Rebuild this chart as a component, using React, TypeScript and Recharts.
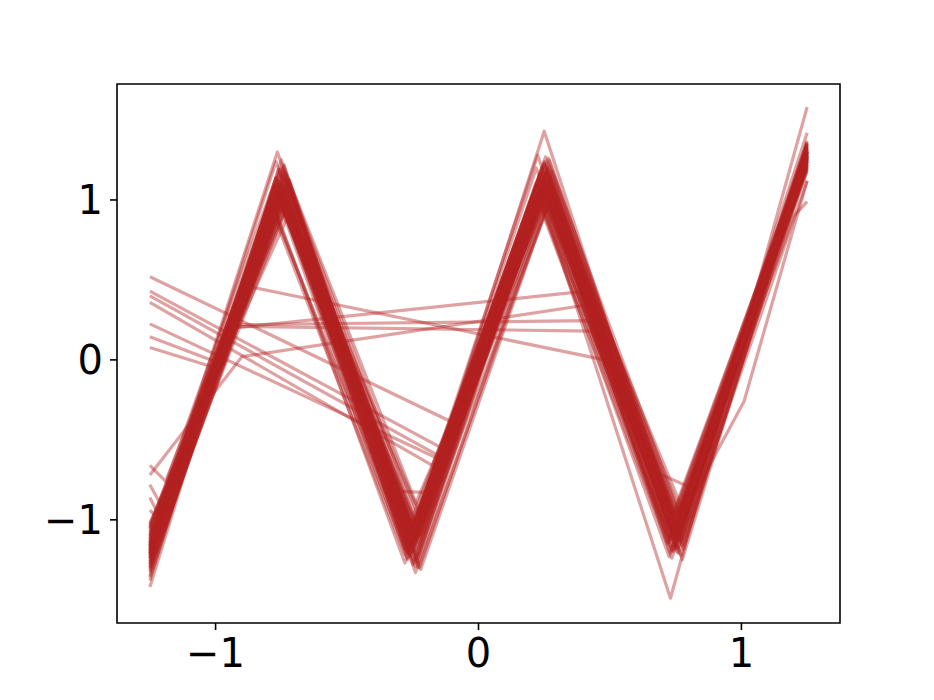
import React from "react";
import { LineChart, Line, XAxis, YAxis, ReferenceArea } from "recharts";

// corner positions shared by the regular curves
const peakX = [-1.25, -0.75, -0.25, 0.25, 0.75, 1.25];

// y at each corner, one row per regular curve
const regularCurves: number[][] = [
  [-1.18, 1.05, -1.12, 1.1, -1.06, 1.28],
  [-1.25, 1.12, -1.2, 1.05, -1.12, 1.31],
  [-1.1, 0.98, -1.05, 1.15, -1.0, 1.22],
  [-1.32, 1.2, -1.28, 1.22, -1.18, 1.35],
  [-1.05, 1.02, -1.15, 1.08, -1.09, 1.25],
  [-1.22, 1.08, -1.1, 1.18, -1.03, 1.3],
  [-1.15, 0.95, -1.18, 1.02, -1.15, 1.2],
  [-1.28, 1.15, -1.08, 1.12, -0.98, 1.33],
  [-1.2, 1.1, -1.22, 1.25, -1.1, 1.27],
  [-1.12, 1.0, -1.02, 1.06, -1.2, 1.24],
  [-1.42, 1.25, -1.16, 1.13, -1.07, 1.36],
  [-1.08, 1.04, -1.25, 1.0, -1.13, 1.18],
  [-1.24, 1.13, -1.13, 1.2, -1.02, 1.29],
  [-1.3, 1.06, -1.3, 1.09, -1.16, 1.32],
  [-1.16, 1.3, -1.09, 1.16, -1.24, 1.26],
  [-1.02, 0.92, -1.0, 1.03, -0.95, 1.21],
  [-1.19, 1.09, -1.19, 1.28, -1.11, 1.34],
  [-1.26, 1.16, -1.06, 1.07, -1.05, 1.23],
  [-1.14, 1.01, -1.14, 1.12, -1.08, 1.3],
  [-1.21, 1.07, -1.23, 1.04, -1.19, 1.28],
  [-1.35, 1.18, -1.11, 1.19, -1.01, 1.37],
  [-1.11, 0.97, -1.27, 1.11, -1.14, 1.25],
  [-1.23, 1.11, -1.04, 1.23, -1.09, 1.31],
  [-1.17, 1.03, -1.17, 0.98, -1.22, 1.27],
  [-1.29, 1.14, -1.21, 1.14, -1.04, 1.33],
  [-1.07, 0.99, -1.1, 1.09, -1.12, 1.19],
  [-1.27, 1.22, -1.33, 1.17, -1.17, 1.35],
  [-1.13, 1.06, -1.07, 1.01, -0.99, 1.24],
  [-1.2, 0.89, -1.15, 1.13, -1.1, 1.29],
  [-1.33, 1.1, -1.24, 1.26, -1.06, 1.32],
  [-1.09, 1.12, -0.97, 1.08, -1.15, 1.22],
  [-1.24, 1.04, -1.12, 1.43, -1.1, 1.42],
  [-1.18, 1.08, -1.2, 1.06, -1.49, 1.58],
  [-1.15, 1.02, -1.29, 1.15, -1.21, 1.12],
  [-1.38, 1.19, -1.18, 1.1, -1.03, 1.26],
  [-1.04, 0.94, -1.09, 1.21, -1.13, 1.3],
  [-1.26, 1.09, -1.14, 1.03, -1.23, 1.29],
  [-1.12, 1.17, -1.26, 1.19, -1.08, 1.27],
  [-1.3, 0.96, -1.05, 1.24, -1.16, 1.34],
  [-1.19, 1.13, -1.31, 1.05, -1.0, 1.21],
  [-1.06, 1.07, -1.12, 1.16, -1.19, 1.32],
  [-1.36, 1.21, -1.19, 1.09, -1.11, 1.25],
  [-1.14, 0.91, -1.22, 1.2, -1.05, 1.3],
  [-1.22, 1.15, -1.01, 1.12, -1.14, 1.28],
  [-1.28, 1.03, -1.27, 1.27, -1.2, 1.36],
  [-1.1, 1.1, -1.16, 0.97, -1.07, 1.23],
  [-1.24, 0.98, -1.09, 1.14, -1.25, 1.31],
  [-1.17, 1.24, -1.24, 1.1, -1.02, 1.26],
  [-1.31, 1.05, -1.13, 1.06, -1.12, 1.33],
  [-1.03, 1.0, -1.2, 1.22, -1.09, 1.2],
  [-1.21, 1.19, -1.07, 1.18, -1.17, 1.35],
  [-1.16, 1.06, -1.3, 1.01, -1.04, 1.27],
];

// small sideways offset of the inner corners of each regular curve
const cornerShift: number[] = [
  0.01, -0.02, 0.02, 0.0, -0.01, 0.03, -0.03, 0.01, 0.02, -0.01,
  0.0, -0.02, 0.015, 0.025, -0.015, 0.03, -0.025, 0.005, 0.02, -0.01,
  0.01, -0.03, 0.0, 0.02, -0.02, 0.025, 0.01, -0.005, -0.02, 0.015,
  0.03, 0.0, -0.02, 0.01, -0.01, 0.02, -0.025, 0.015, 0.0, 0.03,
  -0.015, 0.01, -0.03, 0.02, 0.005, -0.01, 0.025, -0.02, 0.01, 0.0,
  -0.005, 0.02,
];

// curves that skip corners, as [x, y] pairs
const irregularCurves: [number, number][][] = [
  [[-1.25, -1.2], [-0.88, 0.46], [0.48, 0.0], [0.75, -1.06], [1.25, 1.27]],
  [[-1.25, -1.14], [-0.93, 0.21], [0.43, 0.18], [0.75, -1.04], [1.25, 1.24]],
  [[-1.25, -1.17], [-0.93, 0.22], [0.42, 0.245], [0.75, -1.09], [1.25, 1.3]],
  [[-1.25, -0.72], [-0.9, 0.02], [0.4, 0.34], [0.75, -1.12], [1.25, 1.29]],
  [[-1.25, -1.22], [-0.93, 0.2], [0.383, 0.425], [0.75, -1.02], [1.25, 1.25]],
  [[-1.25, 0.52], [-0.1, -0.39], [0.25, 1.06], [0.75, -1.07], [1.25, 1.26]],
  [[-1.25, 0.43], [-0.13, -0.56], [0.25, 1.12], [0.75, -1.1], [1.25, 1.31]],
  [[-1.25, 0.4], [-0.14, -0.61], [0.25, 1.0], [0.75, -1.0], [1.25, 1.22]],
  [[-1.25, 0.36], [-0.176, -0.66], [0.25, 1.15], [0.75, -1.13], [1.25, 1.28]],
  [[-1.25, 0.225], [-0.15, -0.62], [0.25, 1.08], [0.75, -1.05], [1.25, 1.27]],
  [[-1.25, 0.145], [-0.97, -0.03], [-0.75, 1.05], [-0.25, -1.1], [0.25, 1.09], [0.75, -1.08], [1.25, 1.3]],
  [[-1.25, 0.077], [-0.98, -0.06], [-0.75, 1.0], [-0.25, -1.14], [0.25, 1.13], [0.75, -1.11], [1.25, 1.25]],
  [[-1.25, -0.66], [-1.19, -0.76], [-0.75, 1.08], [-0.25, -1.12], [0.25, 1.1], [0.75, -1.06], [1.25, 1.27]],
  [[-1.25, -0.78], [-1.21, -0.9], [-0.75, 1.02], [-0.25, -1.17], [0.25, 1.05], [0.75, -1.14], [1.25, 1.3]],
  [[-1.25, -0.86], [-1.22, -0.96], [-0.76, 1.12], [-0.25, -1.08], [0.25, 1.17], [0.75, -1.09], [1.25, 1.24]],
  [[-1.25, -1.19], [-0.75, 1.05], [-0.31, -0.82], [-0.19, -0.83], [0.25, 1.1], [0.75, -1.1], [1.25, 1.28]],
  [[-1.25, -1.21], [-0.75, 1.09], [-0.25, -1.15], [0.25, 1.11], [0.685, -0.71], [0.81, -0.8], [1.25, 1.26]],
  [[-1.25, -1.16], [-0.75, 1.04], [-0.25, -1.13], [0.25, 1.07], [0.75, -1.05], [1.01, -0.26], [1.25, 1.12]],
  [[-1.25, -1.23], [-0.75, 1.1], [-0.25, -1.19], [0.25, 1.14], [0.75, -1.1], [1.2, 0.9], [1.25, 0.99]],
  [[-1.25, -0.94], [-1.2, -1.02], [-0.74, 1.06], [-0.27, -1.16], [0.24, 1.2], [0.73, -1.2], [1.25, 1.3]],
  [[-1.25, -1.05], [-0.77, 1.14], [-0.24, -0.9], [0.27, 1.04], [0.71, -0.95], [0.78, -1.18], [1.25, 1.28]],
];

const xTicks = [-1, 0, 1];
const yTicks = [-1, 0, 1];
const xDomain: [number, number] = [-1.375, 1.375];
const yDomain: [number, number] = [-1.645, 1.725];

const series = [
  ...regularCurves.map((ys, k) =>
    ys.map((y, i) => ({
      x: i === 0 || i === peakX.length - 1 ? peakX[i] : peakX[i] + cornerShift[k],
      y,
    }))
  ),
  ...irregularCurves.map((pts) => pts.map(([x, y]) => ({ x, y }))),
];

const fmt = (v: number) => (v < 0 ? "\u2212" + Math.abs(v) : String(v));

const tickStyle = { fill: "#000", fontSize: 40, fontFamily: "DejaVu Sans" };

export default function App() {
  return (
    <div style={{ width: 934, height: 700 }}>
      <style>{"body{margin:0;background:#fff}"}</style>
      <LineChart width={934} height={700} margin={{ top: 84, right: 94, bottom: 0, left: 0 }}>
        <XAxis
          type="number"
          dataKey="x"
          domain={xDomain}
          ticks={xTicks}
          allowDataOverflow
          height={77}
          axisLine={false}
          tickLine={{ stroke: "#000", strokeWidth: 1.6 }}
          tickSize={7}
          tickMargin={9}
          tick={tickStyle}
          tickFormatter={fmt}
        />
        <YAxis
          type="number"
          dataKey="y"
          domain={yDomain}
          ticks={yTicks}
          allowDataOverflow
          width={117}
          axisLine={false}
          tickLine={{ stroke: "#000", strokeWidth: 1.6 }}
          tickSize={7}
          tickMargin={7}
          tick={tickStyle}
          tickFormatter={fmt}
        />
        {series.map((d, i) => (
          <Line
            key={i}
            data={d}
            dataKey="y"
            type="linear"
            stroke="#b22222"
            strokeOpacity={0.42}
            strokeWidth={3.2}
            strokeLinejoin="round"
            dot={false}
            activeDot={false}
            isAnimationActive={false}
          />
        ))}
        <ReferenceArea
          x1={xDomain[0]}
          x2={xDomain[1]}
          y1={yDomain[0]}
          y2={yDomain[1]}
          fill="none"
          fillOpacity={0}
          stroke="#000"
          strokeWidth={1.6}
          ifOverflow="visible"
        />
      </LineChart>
    </div>
  );
}
